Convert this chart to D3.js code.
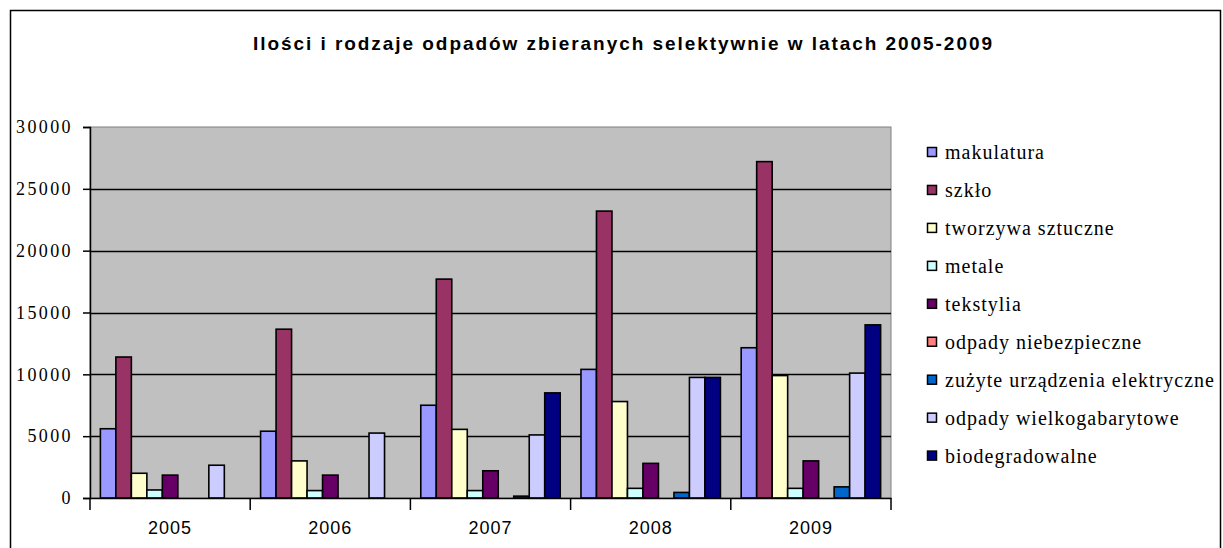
<!DOCTYPE html>
<html>
<head>
<meta charset="utf-8">
<script src="https://cdn.jsdelivr.net/npm/d3@7"></script>
<style>
  body { margin: 0; background: #ffffff; }
  svg { display: block; }
</style>
</head>
<body>
<div id="chart"></div>
<script>
const years = ["2005", "2006", "2007", "2008", "2009"];
const seriesNames = [
  "makulatura",
  "szkło",
  "tworzywa sztuczne",
  "metale",
  "tekstylia",
  "odpady niebezpieczne",
  "zużyte urządzenia elektryczne",
  "odpady wielkogabarytowe",
  "biodegradowalne",
];
const seriesColors = [
  "#9999FF", "#993366", "#FFFFCC", "#CCFFFF", "#660066",
  "#FF8080", "#0066CC", "#CCCCFF", "#000080",
];
// one array per series, values for 2005..2009
const makulatura = [5600, 5400, 7500, 10400, 12150];
const szklo = [11400, 13650, 17700, 23200, 27200];
const tworzywa = [2000, 3000, 5550, 7800, 9900];
const metale = [650, 600, 600, 780, 780];
const tekstylia = [1850, 1850, 2200, 2800, 3000];
const niebezpieczne = [0, 0, 0, 0, 0];
const elektryczne = [0, 0, 150, 450, 900];
const wielkogabarytowe = [2650, 5250, 5100, 9750, 10100];
const biodegradowalne = [0, 0, 8500, 9750, 14000];
const yTicks = [0, 5000, 10000, 15000, 20000, 25000, 30000];
const title = "Ilości i rodzaje odpadów zbieranych selektywnie w latach 2005-2009";

const seriesValues = [makulatura, szklo, tworzywa, metale, tekstylia,
  niebezpieczne, elektryczne, wielkogabarytowe, biodegradowalne];

const SERIF = "'Liberation Serif', 'Times New Roman', Times, 'DejaVu Serif', serif";
const SANS = "'Liberation Sans', Arial, Helvetica, sans-serif";

const width = 1223, height = 548;
const plot = { left: 90, right: 891, top: 127, bottom: 498 };

const svg = d3.select("#chart").append("svg")
  .attr("width", width).attr("height", height);

// outer chart frame
svg.append("rect")
  .attr("x", 10.5).attr("y", 10.5)
  .attr("width", 1210).attr("height", 560)
  .attr("fill", "#ffffff").attr("stroke", "#000000").attr("stroke-width", 1.5);

svg.append("text")
  .style("font-family", SANS)
  .attr("x", 253).attr("y", 50)
  .attr("font-size", 19).attr("font-weight", "bold")
  .attr("textLength", 739).attr("lengthAdjust", "spacing")
  .text(title);

const x = d3.scaleBand().domain(years).range([plot.left, plot.right]);
const xInner = d3.scaleBand().domain(d3.range(seriesNames.length))
  .range([0, x.bandwidth()]).paddingOuter(0.67);
const y = d3.scaleLinear().domain([0, 30000]).range([plot.bottom, plot.top]);

svg.append("rect")
  .attr("x", plot.left).attr("y", plot.top)
  .attr("width", plot.right - plot.left).attr("height", plot.bottom - plot.top)
  .attr("fill", "#C0C0C0").attr("stroke", "#808080");

svg.append("g")
  .selectAll("line")
  .data(yTicks.filter((d) => d > 0 && d < 30000))
  .join("line")
  .attr("x1", plot.left).attr("x2", plot.right)
  .attr("y1", (d) => Math.round(y(d)) + 0.5).attr("y2", (d) => Math.round(y(d)) + 0.5)
  .attr("stroke", "#000000").attr("stroke-width", 1.5);

const bars = [];
years.forEach((yr, i) => {
  seriesValues.forEach((vals, s) => {
    if (vals[i] > 0) bars.push({ year: yr, s, v: vals[i] });
  });
});

svg.append("g")
  .selectAll("rect")
  .data(bars)
  .join("rect")
  .attr("x", (d) => x(d.year) + xInner(d.s))
  .attr("y", (d) => y(d.v))
  .attr("width", xInner.bandwidth())
  .attr("height", (d) => plot.bottom - y(d.v))
  .attr("fill", (d) => seriesColors[d.s])
  .attr("stroke", "#000000").attr("stroke-width", 1.6);

// y axis
const yAxis = svg.append("g")
  .attr("transform", `translate(${plot.left},0)`)
  .call(d3.axisLeft(y).tickValues(yTicks).tickFormat(d3.format("d"))
    .tickSize(7).tickPadding(10));
yAxis.attr("font-family", null).attr("font-size", null);
yAxis.select(".domain").attr("stroke", "#000000").attr("stroke-width", 1.5);
yAxis.selectAll(".tick line").attr("stroke-width", 1.5);
yAxis.selectAll("text")
  .style("font-family", SERIF)
  .attr("font-size", 18).attr("letter-spacing", 2.4).attr("fill", "#000000");

// x axis
const xAxis = svg.append("g")
  .attr("transform", `translate(0,${plot.bottom})`)
  .call(d3.axisBottom(x).tickSize(0).tickPadding(23));
xAxis.attr("font-family", null).attr("font-size", null);
xAxis.select(".domain").attr("stroke", "#000000").attr("stroke-width", 1.5);
xAxis.selectAll("text")
  .style("font-family", SANS)
  .attr("font-size", 18).attr("letter-spacing", 1).attr("fill", "#000000");
xAxis.append("g")
  .selectAll("line")
  .data(years.map((d) => x(d)).concat([plot.right]))
  .join("line")
  .attr("x1", (d) => d).attr("x2", (d) => d)
  .attr("y1", 0).attr("y2", 12)
  .attr("stroke", "#000000").attr("stroke-width", 1.5);

// legend
const legend = svg.append("g").attr("transform", "translate(927,153)");
const item = legend.selectAll("g")
  .data(seriesNames)
  .join("g")
  .attr("transform", (d, i) => `translate(0,${i * 37.95})`);
item.append("rect")
  .attr("x", 0.5).attr("y", -5.5)
  .attr("width", 9).attr("height", 9)
  .attr("fill", (d, i) => seriesColors[i])
  .attr("stroke", "#000000").attr("stroke-width", 1.5);
item.append("text")
  .style("font-family", SERIF)
  .attr("x", 18).attr("y", 6)
  .attr("font-size", 20).attr("letter-spacing", 1)
  .attr("fill", "#000000")
  .text((d) => d);
</script>
</body>
</html>
